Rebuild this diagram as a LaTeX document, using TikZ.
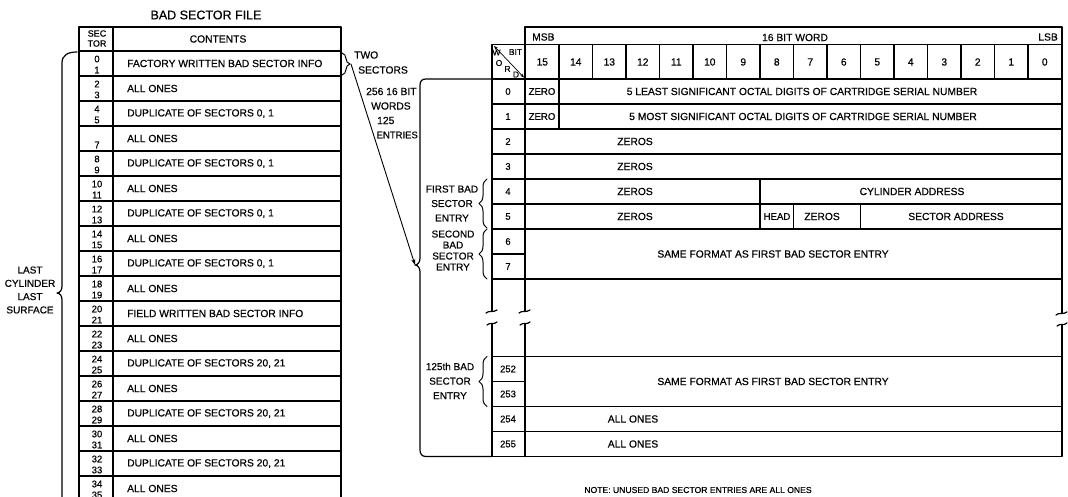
\documentclass[tikz,border=0pt]{standalone}
\usepackage{fontspec}
\setmainfont{Liberation Sans}[FakeBold=0.5]
\usetikzlibrary{arrows.meta,decorations.pathreplacing}

\begin{document}
\begin{tikzpicture}[x=1pt, y=-1pt, line cap=round, line join=round,
	every node/.style={font=\fontsize{10.3}{12}\selectfont, inner sep=0pt},
	num/.style={font=\fontsize{9.5}{11}\selectfont},
	corner/.style={font=\fontsize{8.5}{9}\selectfont},
	tabline/.style={line width=1.6pt},
	divline/.style={line width=1.2pt},
	curly/.style={decorate, decoration={brace, amplitude=8pt}, line width=1pt},
	>={Stealth[length=6pt, width=4pt]}]
	\useasboundingbox (0,0) rectangle (1068,497);
	\clip (0,0) rectangle (1068,497);
	\node[font=\fontsize{12.5}{14}\selectfont] (title) at (206,15) {BAD SECTOR FILE};
	\draw[tabline] (79,510) -- (79,27) -- (341,27) -- (341,510);
	\draw[tabline] (113,27) -- (113,510);
	\foreach \k in {0,...,18}
		\draw[divline] (79,{51+25*\k}) -- (341,{51+25*\k});
	\node[align=center, font=\fontsize{9}{10}\selectfont] (sechead) at (97,38.5) {SEC\\TOR};
	\node (conthead) at (218,39) {CONTENTS};
	\foreach \k/\a/\b/\txt in {0/0/1/FACTORY WRITTEN BAD SECTOR INFO, 1/2/3/ALL ONES, 2/4/5/{DUPLICATE OF SECTORS 0, 1}, 3/{}/7/ALL ONES, 4/8/9/{DUPLICATE OF SECTORS 0, 1}, 5/10/11/ALL ONES, 6/12/13/{DUPLICATE OF SECTORS 0, 1}, 7/14/15/ALL ONES, 8/16/17/{DUPLICATE OF SECTORS 0, 1}, 9/18/19/ALL ONES, 10/20/21/FIELD WRITTEN BAD SECTOR INFO, 11/22/23/ALL ONES, 12/24/25/{DUPLICATE OF SECTORS 20, 21}, 13/26/27/ALL ONES, 14/28/29/{DUPLICATE OF SECTORS 20, 21}, 15/30/31/ALL ONES, 16/32/33/{DUPLICATE OF SECTORS 20, 21}, 17/34/35/ALL ONES} {
		\node[num] (sa\k) at (97,{59+25*\k}) {\a};
		\node[num] (sb\k) at (97,{70+25*\k}) {\b};
		\node[anchor=west] (ct\k) at (127,{63.5+25*\k}) {\txt};
	}
	\draw[divline] (77,52) .. controls (68,52) and (62,55) .. (62,63) -- (62,286) .. controls (62,290) and (60,293) .. (57,293) .. controls (60,293) and (62,296) .. (62,300) -- (62,510);
	\node[align=center, font=\fontsize{10}{13.3}\selectfont] (lastcyl) at (30,290) {LAST\\CYLINDER\\LAST\\SURFACE};
	\draw[curly] (342,53) -- (342,75);
	\coordinate (twotip) at (351,64);
	\node[anchor=west] (two) at (354,55) {TWO};
	\node[anchor=west] (sectors) at (358,70) {SECTORS};
	\node[anchor=west] (words256) at (366,91.5) {256 16 BIT};
	\node[anchor=west] (words) at (371,106) {WORDS};
	\node[anchor=west] (entries125) at (377,120.5) {125};
	\node[anchor=east, font=\fontsize{9.5}{11}\selectfont] (entries) at (418,135) {ENTRIES};
	\coordinate (wordtip) at (415,265);
	\draw[divline] (492,79) -- (426,79) .. controls (422,79) and (420,81) .. (420,85) -- (420,258) .. controls (420,262) and (418,265) .. (wordtip) .. controls (418,265) and (420,268) .. (420,272) -- (420,450) .. controls (420,454) and (422,456.5) .. (426,456.5) -- (492,456.5);
	\draw[->, line width=0.9pt] (twotip) -- (wordtip);
	\draw[tabline] (525,311) -- (525,27) -- (1062,27) -- (1062,313);
	\draw[tabline] (492,311) -- (492,44.5) -- (1062,44.5);
	\draw[tabline] (492,324) -- (492,456.5) -- (1062,456.5) -- (1062,325);
	\draw[tabline] (525,324) -- (525,456.5);
	\foreach \y in {79,104,129,154,179,204,229,279,356.5,406.5,431.5}
		\draw[divline] (492,\y) -- (1062,\y);
	\foreach \y in {254,381.5}
		\draw[divline] (492,\y) -- (525,\y);
	\foreach \j in {1,...,15}
		\draw[divline] ({525.5+33.5*\j},44.5) -- ({525.5+33.5*\j},79);
	\draw[divline] (559,79) -- (559,129);
	\draw[divline] (760,179) -- (760,229);
	\draw[divline] (793.5,204) -- (793.5,229) (860.5,204) -- (860.5,229);
	\foreach \x/\ya/\yb in {492/311/324, 525/311/324, 1062/313/325} {
		\draw[divline] ({\x-6},{\ya+2}) .. controls ({\x-3},{\ya-1}) and ({\x+1},{\ya+2}) .. ({\x+5},{\ya-1});
		\draw[divline] ({\x-5},{\yb+1}) .. controls ({\x-2},{\yb-2}) and ({\x+2},{\yb+1}) .. ({\x+5},{\yb-2});
	}
	\node[anchor=west] (msb) at (532,37) {MSB};
	\node (word16) at (795,37.5) {16 BIT WORD};
	\node[anchor=east] (lsb) at (1058,37) {LSB};
	\foreach \j [evaluate=\j as \bitno using int(15-\j)] in {0,...,15}
		\node (bit\bitno) at ({525.5+33.5*(\j+0.5)},62) {\bitno};
	\coordinate (wtop) at (494,46);
	\coordinate (wbot) at (524,77.5);
	\draw[{Stealth[length=4pt,width=3pt]}-{Stealth[length=4pt,width=3pt]}, line width=0.7pt] (wtop) -- (wbot);
	\node[corner] (cbit) at (515.5,52) {BIT};
	\node[corner] (cw) at (496.5,52.5) {W};
	\node[corner] (co) at (499,63) {O};
	\node[corner] (cr) at (507.5,69) {R};
	\node[corner] (cd) at (516,74.5) {D};
	\foreach \k in {0,...,7}
		\node[num] (w\k) at (508,{91.5+25*\k}) {\k};
	\foreach \k/\n in {0/252,1/253,2/254,3/255}
		\node[num] (w\n) at (508,{369+25*\k}) {\n};
	\node[font=\fontsize{9.6}{11}\selectfont] (z0) at (542,91.5) {ZERO};
	\node[font=\fontsize{9.6}{11}\selectfont] (z1) at (542,116.5) {ZERO};
	\node (serlo) at (802,91.5) {5 LEAST SIGNIFICANT OCTAL DIGITS OF CARTRIDGE SERIAL NUMBER};
	\node (serhi) at (803,116.5) {5 MOST SIGNIFICANT OCTAL DIGITS OF CARTRIDGE SERIAL NUMBER};
	\node (zs2) at (635,141.5) {ZEROS};
	\node (zs3) at (635,166.5) {ZEROS};
	\node (zs4) at (635,191.5) {ZEROS};
	\node (cyl) at (912,191.5) {CYLINDER ADDRESS};
	\node (zs5) at (635,216.5) {ZEROS};
	\node[font=\fontsize{9.6}{11}\selectfont] (head) at (777,216.5) {HEAD};
	\node (zs5b) at (822,216.5) {ZEROS};
	\node (sect) at (956,216.5) {SECTOR ADDRESS};
	\node (same1) at (773,254) {SAME FORMAT AS FIRST BAD SECTOR ENTRY};
	\node (same2) at (773,381.5) {SAME FORMAT AS FIRST BAD SECTOR ENTRY};
	\node (ones254) at (633,419) {ALL ONES};
	\node (ones255) at (633,444) {ALL ONES};
	\draw[curly] (487,228) -- (487,179);
	\node[align=center, font=\fontsize{10}{14.5}\selectfont] (first) at (452,203.5) {FIRST BAD\\SECTOR\\ENTRY};
	\draw[curly] (487,279) -- (487,229);
	\node[align=center, font=\fontsize{10}{11}\selectfont] (second) at (453,250.5) {SECOND\\BAD\\SECTOR\\ENTRY};
	\draw[curly] (487,406.5) -- (487,356.5);
	\node[align=center, font=\fontsize{10}{14.5}\selectfont] (last) at (450,381) {125th BAD\\SECTOR\\ENTRY};
	\node[font=\fontsize{8.6}{11}\selectfont] (note) at (698,490) {NOTE: UNUSED BAD SECTOR ENTRIES ARE ALL ONES};
\end{tikzpicture}
\end{document}
